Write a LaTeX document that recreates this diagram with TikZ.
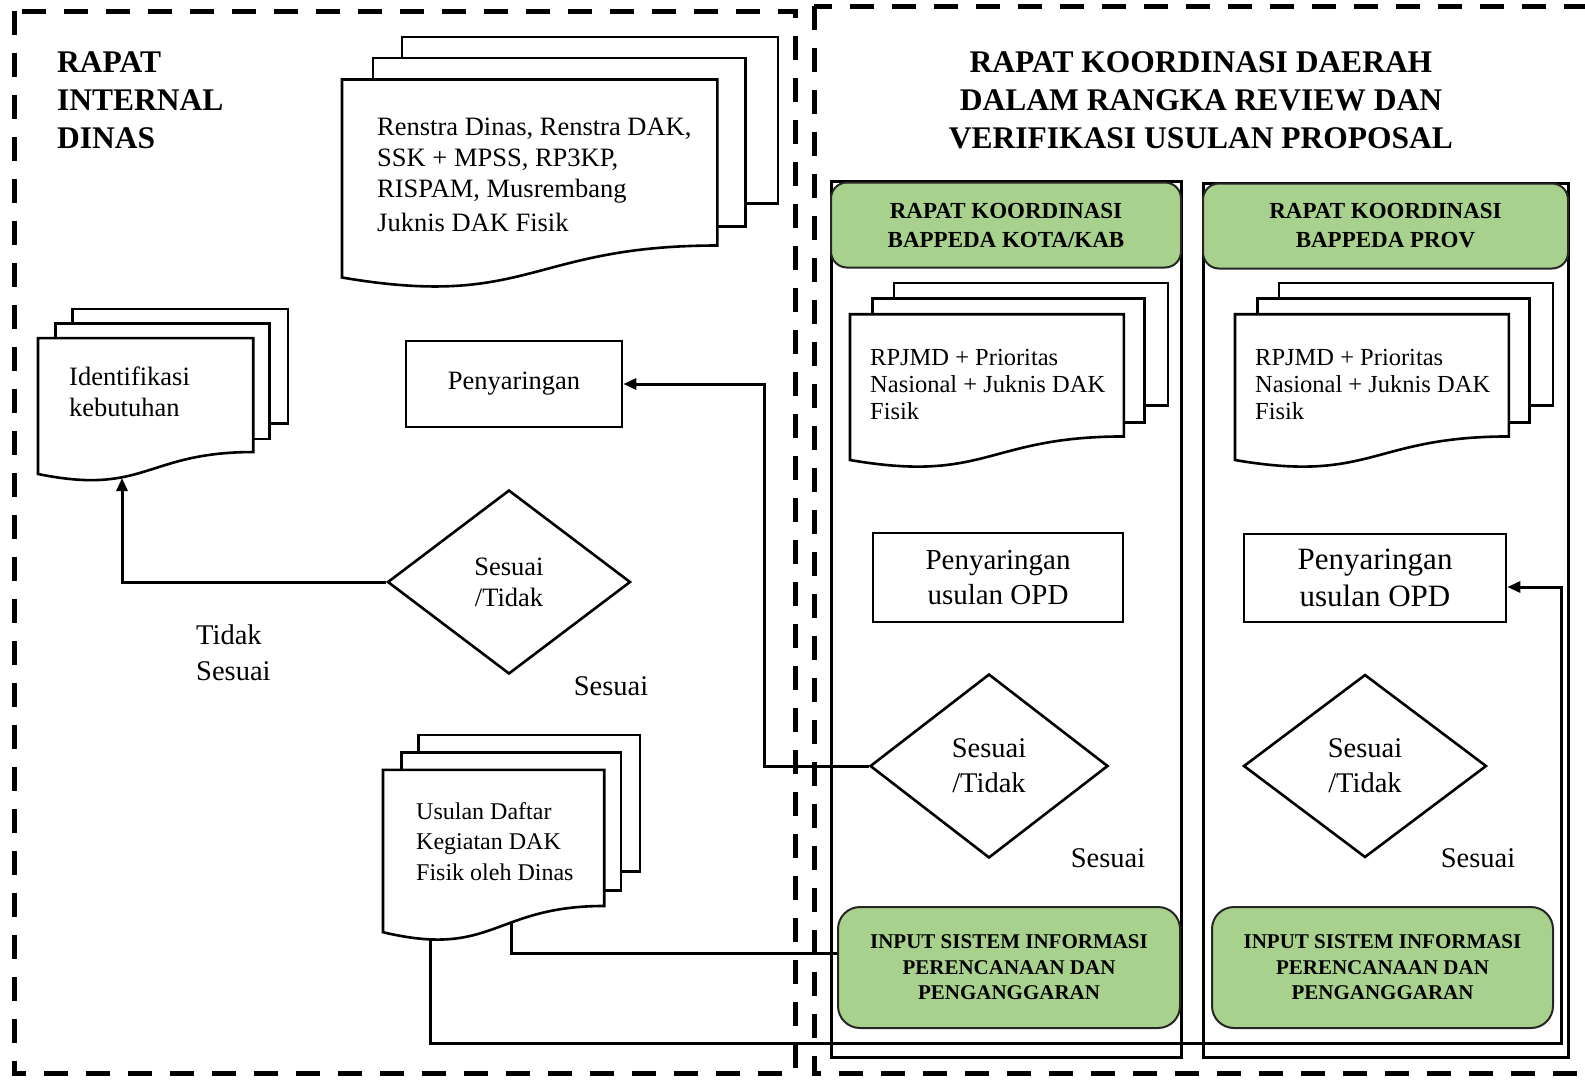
\documentclass[tikz,border=0pt]{standalone}
\usepackage{fontspec}
\setmainfont{Liberation Serif}
\usetikzlibrary{arrows.meta,shapes.geometric}
\definecolor{grn}{HTML}{A9D18E}
\newcommand{\fsz}[2]{\fontsize{#1}{#2}\selectfont}
\newcommand{\mdocstack}[5]{%
 \begin{scope}[shift={(#2,#3)},x=#4pt,y=-#5pt]
  \draw[sheet] (0.138,0) rectangle (1,0.666);
  \draw[sheet] (0.071,0.084) rectangle (0.926,0.757);
  \draw[sheet] (0,0.170) -- (0.861,0.170) -- (0.861,0.834) .. controls (0.430,0.834) and (0.430,1.090) .. (0,0.962) -- cycle;
  \coordinate (#1) at (0.43,0.55);
 \end{scope}}
\tikzset{
 frame/.style={line width=5pt, dash pattern=on 24pt off 18pt},
 sheet/.style={draw, line width=2.6pt, fill=white, line join=miter},
 box/.style={rectangle, draw, line width=2.6pt, fill=white, inner sep=0pt, align=center},
 dia/.style={diamond, draw, line width=2.6pt, fill=white, inner sep=0pt, align=center},
 hdr/.style={rectangle, rounded corners=16pt, draw=black!85, line width=2pt, fill=grn, inner sep=0pt, align=center, font=\bfseries\fsz{23}{29}},
 inp/.style={rectangle, rounded corners=22pt, draw=black!85, line width=2pt, fill=grn, inner sep=0pt, align=center, font=\bfseries\fsz{21}{25.5}},
 ttl/.style={inner sep=0pt, font=\bfseries\fsz{31.5}{38}},
 txt/.style={inner sep=0pt, align=left},
 lbl/.style={inner sep=0pt, align=left, font=\fsz{28.5}{36}},
 colbox/.style={rectangle, draw, line width=3pt, inner sep=0pt},
 conn/.style={line width=3pt},
 arr/.style={conn, -{Triangle[length=13pt,width=11pt]}}
}
\begin{document}
\begin{tikzpicture}[x=1pt,y=-1pt]
\useasboundingbox (0,0) rectangle (1585,1088);
\clip (0,0) rectangle (1585,1088);
\fill[white] (0,0) rectangle (1585,1088);
% dashed frames
\draw[frame] (14,11) rectangle (795,1073);
\draw[frame] (814,6) rectangle (1625,1073);
% titles
\node[ttl, align=left, anchor=north west] (t1) at (57,51) {RAPAT\\INTERNAL\\DINAS};
\node[ttl, align=center, anchor=north] (t2) at (1201,51) {RAPAT KOORDINASI DAERAH\\DALAM RANGKA REVIEW DAN\\VERIFIKASI USULAN PROPOSAL};
% column frames
\node[colbox, minimum width=350pt, minimum height=876pt] (c1) at (1006,619) {};
\node[colbox, minimum width=365pt, minimum height=874pt] (c2) at (1385.5,620) {};
\node[hdr, minimum width=350pt, minimum height=85pt] (h1) at (1006,225) {RAPAT KOORDINASI\\BAPPEDA KOTA/KAB};
\node[hdr, minimum width=365pt, minimum height=85pt] (h2) at (1385.5,226) {RAPAT KOORDINASI\\BAPPEDA PROV};
% document stacks
\mdocstack{s1}{342}{37}{436}{250}
\mdocstack{s2}{38}{309}{250}{171.5}
\mdocstack{s3}{383}{735}{257}{205}
\mdocstack{s4}{850}{283}{318}{184}
\mdocstack{s5}{1235}{283}{318}{184}
\node[txt, font=\fsz{26.5}{31}, anchor=north west] (x1) at (377,118) {Renstra Dinas, Renstra DAK,\\SSK + MPSS, RP3KP,\\RISPAM, Musrembang\\[3pt]Juknis DAK Fisik};
\node[txt, font=\fsz{26.5}{31}, anchor=north west] (x2) at (69,367) {Identifikasi\\kebutuhan};
\node[txt, font=\fsz{24}{30.5}, anchor=north west] (x3) at (416,802) {Usulan Daftar\\Kegiatan DAK\\Fisik oleh Dinas};
\node[txt, font=\fsz{24.5}{27}, anchor=north west] (x4) at (870,349) {RPJMD + Prioritas\\Nasional + Juknis DAK\\Fisik};
\node[txt, font=\fsz{24.5}{27}, anchor=north west] (x5) at (1255,349) {RPJMD + Prioritas\\Nasional + Juknis DAK\\Fisik};
% process boxes
\node[box, minimum width=216pt, minimum height=86pt, font=\fsz{26.5}{31}] (p1) at (514,384) {Penyaringan};
\node[box, minimum width=250pt, minimum height=89pt, font=\fsz{29}{35}] (p2) at (998,577.5) {Penyaringan\\usulan OPD};
\node[box, minimum width=262pt, minimum height=88pt, font=\fsz{31}{37}] (p3) at (1375,578) {Penyaringan\\usulan OPD};
% decisions
\node[dia, minimum width=243pt, minimum height=184pt, font=\fsz{26.5}{31}] (d1) at (509,582) {Sesuai\\/Tidak};
\node[dia, minimum width=238pt, minimum height=184pt, font=\fsz{28.5}{35}] (d2) at (989,766) {Sesuai\\/Tidak};
\node[dia, minimum width=243pt, minimum height=183pt, font=\fsz{28.5}{35}] (d3) at (1365,766) {Sesuai\\/Tidak};
% input boxes
\node[inp, minimum width=342pt, minimum height=121pt] (i1) at (1009,967.5) {INPUT SISTEM INFORMASI\\PERENCANAAN DAN\\PENGANGGARAN};
\node[inp, minimum width=341pt, minimum height=121pt] (i2) at (1382.5,967.5) {INPUT SISTEM INFORMASI\\PERENCANAAN DAN\\PENGANGGARAN};
% labels
\node[lbl, anchor=north west] (l1) at (196,624.5) {Tidak\\Sesuai};
\node[lbl, anchor=base] (l2) at (611,695) {Sesuai};
\node[lbl, anchor=base] (l3) at (1108,867) {Sesuai};
\node[lbl, anchor=base] (l4) at (1478,867) {Sesuai};
% connectors
\coordinate (j1) at (764,0);
\coordinate (idb) at (122,478);
\coordinate (ub1) at (511,923);
\coordinate (ub2) at (430,939);
\coordinate (j2) at (0,953);
\coordinate (j3) at (1561,1043);
\coordinate (j4) at (0,587);
\draw[arr] (d2.west) -- (d2.west -| j1) |- (p1.east);
\draw[arr] (d1.west) -| (idb);
\draw[conn] (ub1) |- (i1.west |- j2);
\draw[arr] (ub2) |- (j3) |- (p3.east |- j4);
\end{tikzpicture}
\end{document}
